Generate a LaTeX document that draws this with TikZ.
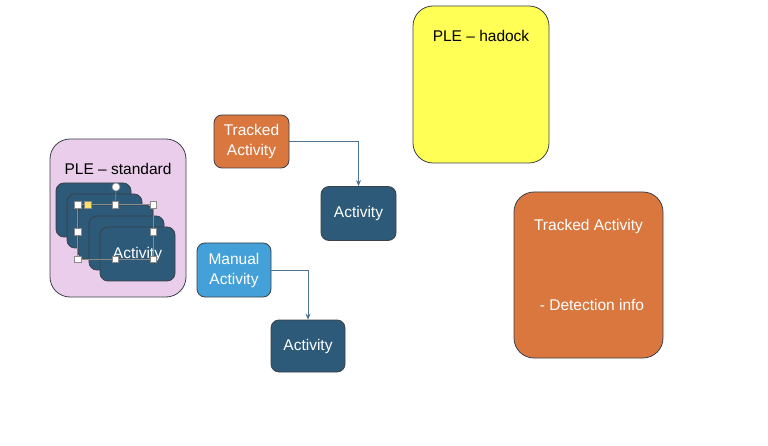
\documentclass[tikz,border=0pt]{standalone}
\usepackage{fontspec}
\setmainfont{Liberation Sans}
\usetikzlibrary{arrows.meta}
\definecolor{edge}{HTML}{3C4048}
\definecolor{darkact}{HTML}{2C5A78}
\definecolor{orangeact}{HTML}{D9773F}
\definecolor{manualact}{HTML}{44A0D8}
\definecolor{pinkbg}{HTML}{EACDEB}
\definecolor{yellowbg}{HTML}{FFFF55}
\definecolor{arrowc}{HTML}{4D7391}
\definecolor{handle}{HTML}{8A8A8A}
\tikzset{
  basebox/.style={draw=edge, line width=0.8pt, inner sep=0pt, text=white,
    font=\fontsize{15.5}{20}\selectfont, align=center},
  smallbox/.style={basebox, rounded corners=8pt},
  bigbox/.style={basebox, rounded corners=20pt},
  actbox/.style={smallbox, fill=darkact, minimum width=75pt, minimum height=54pt},
  lbl/.style={inner sep=0pt, font=\fontsize{15.5}{20}\selectfont},
  conn/.style={draw=arrowc, line width=0.8pt, -{Stealth[length=6pt,width=5pt]}},
  hnd/.style={draw=handle, fill=white, line width=0.6pt, minimum size=6.5pt, inner sep=0pt},
}
\begin{document}
\begin{tikzpicture}[x=1pt,y=-1pt]
\useasboundingbox (0,0) rectangle (768,446);
% PLE standard
\node[bigbox, fill=pinkbg, minimum width=136pt, minimum height=158pt] (std) at (118,218) {};
\node[lbl, text=black] (stdt) at (118,169) {PLE – standard};
\node[actbox] (s1) at (93.5,210) {};
\node[actbox] (s2) at (104.5,221) {};
\node[actbox] (s3) at (115.5,232) {};
\node[actbox] (s4) at (126.5,243) {};
\node[actbox] (s5) at (137.5,254) {Activity};
% selection overlay
\draw[draw=handle, line width=0.8pt] (s3.north west) rectangle (s3.south east);
\coordinate (rot) at (116,187);
\draw[draw=handle, line width=0.6pt] (s3.north) -- (rot);
\node[circle, draw=handle, fill=white, minimum size=8pt, inner sep=0pt, line width=0.6pt] (roth) at (rot) {};
\foreach \a/\n in {north west/h1,north/h2,north east/h3,west/h4,east/h5,south west/h6,south/h7,south east/h8}
  \node[hnd] (\n) at (s3.\a) {};
\node[hnd, fill=yellow!70!orange!60] (hy) at (88,205) {};
% Tracked small
\node[smallbox, fill=orangeact, minimum width=75pt, minimum height=53pt] (tr) at (251.5,141.5) {Tracked\\Activity};
\node[actbox] (a1) at (358.5,213.5) {Activity};
\draw[conn] (tr.east) -| (a1.north);
% Manual
\node[smallbox, fill=manualact, minimum width=74pt, minimum height=54pt] (man) at (234,270) {Manual\\Activity};
\node[actbox, minimum width=74pt, minimum height=52pt] (a2) at (308,346) {Activity};
\draw[conn] (man.east) -| (a2.north);
% PLE hadock
\node[bigbox, fill=yellowbg, minimum width=136pt, minimum height=157pt] (had) at (481,84.5) {};
\node[lbl, text=black] (hadt) at (481,36) {PLE – hadock};
% Tracked big
\node[bigbox, fill=orangeact, minimum width=149pt, minimum height=166pt] (big) at (588.5,275) {};
\node[lbl, text=white] (bigt) at (588.5,226) {Tracked Activity};
\node[lbl, text=white] (bigd) at (592,305) {- Detection info};
\end{tikzpicture}
\end{document}
